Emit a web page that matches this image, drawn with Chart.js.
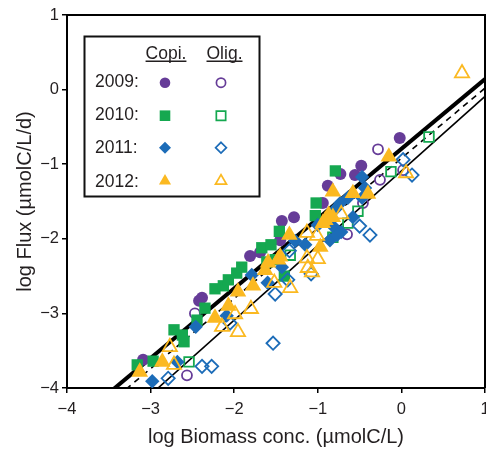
<!DOCTYPE html>
<html><head><meta charset="utf-8">
<script src="https://cdn.jsdelivr.net/npm/chart.js@4.4.1/dist/chart.umd.min.js"></script>
<style>
html,body{margin:0;padding:0;overflow:hidden;background:#fff;width:486px;height:449px}
#wrap{position:absolute;left:0;top:0;width:500px;height:449px}
</style>
</head><body>
<div id="wrap"><canvas id="c" width="500" height="449" style="width:500px;height:449px"></canvas></div>
<script>
// ---- data (log Biomass conc., log Flux) ----
const copi2009 = [[-3.09,-3.62],[-2.385,-2.79],[-2.42,-2.83],[-1.81,-2.23],[-1.69,-2.18],[-1.43,-1.76],[-1.285,-1.71],[-1.45,-2.02],[-0.94,-1.52],[-0.88,-1.29],[-0.73,-1.13],[-0.555,-1.145],[-0.48,-1.02],[-0.02,-0.65]];
const olig2009 = [[-2.47,-3.0],[-2.565,-3.83],[-0.28,-0.80],[-0.256,-1.21],[0.02,-1.08],[-0.46,-1.52],[-0.65,-1.94]];
const copi2010 = [[-3.16,-3.69],[-2.97,-3.64],[-2.72,-3.22],[-2.62,-3.29],[-2.60,-3.38],[-2.445,-3.09],[-2.35,-2.93],[-2.23,-2.67],[-2.13,-2.63],[-2.07,-2.55],[-1.97,-2.46],[-1.91,-2.38],[-1.67,-2.12],[-1.56,-2.08],[-1.46,-1.90],[-1.61,-2.31],[-1.51,-2.28],[-1.40,-2.50],[-1.02,-1.52],[-1.03,-1.69],[-0.79,-1.09]];
const olig2010 = [[-2.54,-3.65],[-1.33,-2.22],[-0.82,-1.98],[-0.64,-1.79],[-0.52,-1.63],[-0.125,-1.10],[0.33,-0.635]];
const copi2011 = [[-2.98,-3.91],[-2.68,-3.65],[-2.46,-3.18],[-2.09,-3.03],[-1.79,-2.485],[-1.60,-2.59],[-1.43,-2.38],[-1.27,-2.03],[-1.15,-2.08],[-1.0,-1.815],[-0.855,-2.02],[-0.81,-1.84],[-0.77,-1.95],[-0.72,-1.91],[-0.78,-1.59],[-0.73,-1.52],[-0.64,-1.45],[-0.58,-1.71],[-0.47,-1.17],[-0.435,-1.32],[-0.47,-1.45]];
const olig2011 = [[-2.79,-3.87],[-2.385,-3.71],[-2.27,-3.71],[-2.05,-3.13],[-1.535,-3.40],[-1.51,-2.74],[-1.36,-2.55],[-1.34,-2.16],[-1.08,-2.47],[-0.50,-1.83],[-0.376,-1.95],[0.02,-0.94],[0.127,-1.145]];
const copi2012 = [[-3.13,-3.785],[-2.86,-3.65],[-2.23,-3.06],[-2.07,-2.90],[-1.955,-2.71],[-1.775,-2.63],[-1.63,-2.42],[-1.475,-2.28],[-1.595,-2.32],[-1.45,-2.24],[-1.34,-1.95],[-0.97,-2.11],[-0.91,-1.75],[-0.87,-1.68],[-0.82,-1.71],[-0.82,-1.37],[-0.58,-1.39],[-0.40,-1.40],[-0.15,-0.90],[-0.94,-1.79]];
const olig2012 = [[-2.77,-3.45],[-2.72,-3.69],[-2.145,-3.18],[-1.99,-3.01],[-1.955,-3.25],[-1.80,-2.94],[-1.52,-2.59],[-1.33,-2.66],[-1.13,-2.26],[-1.0,-2.27],[-1.12,-2.39],[-1.07,-2.45],[-1.13,-1.92],[-1.01,-1.96],[-0.72,-1.67],[0.055,-1.12],[0.725,0.22]];

// regression lines: thick solid, dashed, thin solid
const fitSlopes = [0.935, 0.94, 1.0];
const fitIntercepts = [-0.795, -0.92, -1.09];

const years = ['2009:', '2010:', '2011:', '2012:'];
const groupLabels = ['Copi.', 'Olig.'];
const xTickValues = [-4, -3, -2, -1, 0, 1];
const yTickValues = [-4, -3, -2, -1, 0, 1];
const xTitle = 'log Biomass conc. (\u00b5molC/L)';
const yTitle = 'log Flux (\u00b5molC/L/d)';

// ---- styles ----
const COLORS = ['#663c98', '#15a850', '#1c6cb8', '#fbb921'];
const STYLES = ['circle', 'rect', 'rectRot', 'triangle'];
const R_FILL = [6.0, 8.0, 7.2, 9.6];
const R_OPEN = [5.0, 6.8, 6.6, 8.2];
const FONT = 'Liberation Sans, Arial, Helvetica, sans-serif';
const TXT = '#231f20';

const copiSets = [copi2009, copi2010, copi2011, copi2012];
const oligSets = [olig2009, olig2010, olig2011, olig2012];

function toPts(a) { return a.map(p => ({x: p[0], y: p[1]})); }

const datasets = [];
const order = [3, 2, 1, 0];
order.forEach(i => {
  datasets.push({
    label: 'Olig ' + years[i], data: toPts(oligSets[i]),
    pointStyle: STYLES[i], pointRadius: R_OPEN[i], pointHoverRadius: R_OPEN[i],
    backgroundColor: 'rgba(255,255,255,0)', borderColor: COLORS[i], pointBorderWidth: 1.8, borderWidth: 1.8, showLine: false
  });
  datasets.push({
    label: 'Copi ' + years[i], data: toPts(copiSets[i]),
    pointStyle: STYLES[i], pointRadius: R_FILL[i], pointHoverRadius: R_FILL[i],
    backgroundColor: COLORS[i], borderColor: COLORS[i], pointBorderWidth: 0, borderWidth: 0, showLine: false
  });
});
const lineW = [4, 1.6, 1.6];
const lineDash = [[], [6, 5], []];
fitSlopes.forEach((m, k) => {
  const b = fitIntercepts[k];
  datasets.push({
    type: 'line', label: 'fit' + k,
    data: [{x: -4, y: m * -4 + b}, {x: 1, y: m * 1 + b}],
    borderColor: '#000', borderWidth: lineW[k], borderDash: lineDash[k],
    pointRadius: 0, fill: false, clip: 0, tension: 0
  });
});

function drawMarker(ctx, style, x, y, r, color, filled) {
  ctx.save();
  ctx.beginPath();
  if (style === 'circle') {
    ctx.arc(x, y, r, 0, Math.PI * 2);
  } else if (style === 'rect') {
    const s = Math.SQRT1_2 * r;
    ctx.rect(x - s, y - s, 2 * s, 2 * s);
  } else if (style === 'rectRot') {
    ctx.moveTo(x, y - r); ctx.lineTo(x + r, y); ctx.lineTo(x, y + r); ctx.lineTo(x - r, y); ctx.closePath();
  } else {
    const a = 2 * Math.PI / 3;
    ctx.moveTo(x, y - r);
    ctx.lineTo(x + Math.sin(a) * r, y - Math.cos(a) * r);
    ctx.lineTo(x + Math.sin(2 * a) * r, y - Math.cos(2 * a) * r);
    ctx.closePath();
  }
  if (filled) { ctx.fillStyle = color; ctx.fill(); }
  else { ctx.strokeStyle = color; ctx.lineWidth = 1.7; ctx.stroke(); }
  ctx.restore();
}

const decor = {
  id: 'decor',
  afterDraw(chart) {
    const ctx = chart.ctx, a = chart.chartArea;
    ctx.save();
    ctx.strokeStyle = '#000';
    ctx.lineWidth = 2;
    ctx.beginPath();
    ctx.moveTo(a.left, a.top); ctx.lineTo(a.right, a.top); ctx.lineTo(a.right, a.bottom);
    ctx.stroke();
    // legend box
    ctx.fillStyle = '#fff';
    ctx.fillRect(84, 36, 176, 161);
    ctx.lineWidth = 2;
    ctx.strokeStyle = '#111';
    ctx.strokeRect(84.5, 36.5, 175, 160);
    ctx.fillStyle = TXT;
    ctx.font = '17.5px ' + FONT;
    ctx.textBaseline = 'alphabetic';
    ctx.textAlign = 'center';
    const colX = [166, 224.5];
    groupLabels.forEach((g, j) => {
      ctx.fillText(g, colX[j], 59);
      const w = ctx.measureText(g).width;
      ctx.fillRect(colX[j] - w / 2, 60.5, w, 1.5);
    });
    ctx.textAlign = 'left';
    const rowY = [87.3, 120.3, 153.3, 186.5];
    const markY = [82.7, 115.7, 147.7, 181.0];
    years.forEach((yr, i) => {
      ctx.fillStyle = TXT;
      ctx.fillText(yr, 95, rowY[i]);
      drawMarker(ctx, STYLES[i], 165, markY[i], [5.3, 7.5, 6, 7][i], COLORS[i], true);
      drawMarker(ctx, STYLES[i], 221, markY[i], [4.6, 6.6, 5.4, 6.4][i], COLORS[i], false);
    });
    ctx.restore();
  }
};

function fmt(v) { return String(v).replace('-', '\u2212'); }

new Chart(document.getElementById('c'), {
  type: 'scatter',
  data: {datasets},
  options: {
    responsive: false, animation: false, devicePixelRatio: 1,
    layout: {padding: {top: 15, right: 15, left: 0, bottom: 0}},
    plugins: {legend: {display: false}, tooltip: {enabled: false}},
    scales: {
      x: {
        type: 'linear', min: -4, max: 1,
        afterFit(s) { s.height = 61; },
        afterBuildTicks(s) { s.ticks = xTickValues.map(v => ({value: v})); },
        ticks: {callback: v => fmt(v), color: TXT, font: {family: FONT, size: 16.5}, padding: 7, maxRotation: 0},
        grid: {drawOnChartArea: false, drawTicks: true, tickLength: 5, color: '#000', lineWidth: 1.5},
        border: {display: true, color: '#000', width: 2},
        title: {display: true, text: xTitle, color: TXT, font: {family: FONT, size: 20}, padding: {top: 0, bottom: 0}}
      },
      y: {
        type: 'linear', min: -4, max: 1,
        afterFit(s) { s.width = 67; },
        afterBuildTicks(s) { s.ticks = yTickValues.map(v => ({value: v})); },
        ticks: {callback: v => fmt(v), color: TXT, font: {family: FONT, size: 16.5}, padding: 3},
        grid: {drawOnChartArea: false, drawTicks: true, tickLength: 5, color: '#000', lineWidth: 1.5},
        border: {display: true, color: '#000', width: 2},
        title: {display: true, text: yTitle, color: TXT, font: {family: FONT, size: 20}, padding: {top: 13, bottom: 0}}
      }
    }
  },
  plugins: [decor]
});
</script>
</body></html>
